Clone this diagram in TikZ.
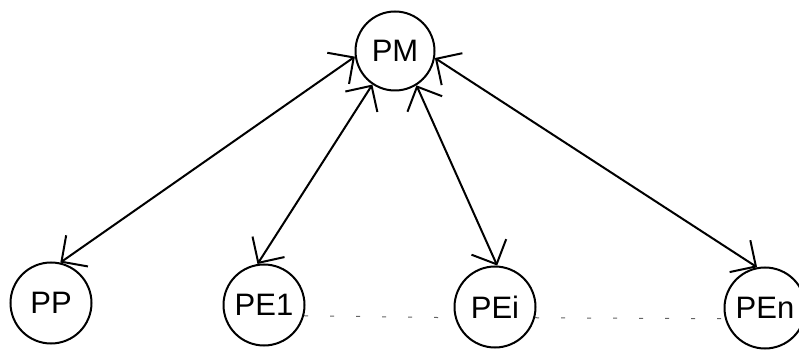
\documentclass[tikz,border=0pt]{standalone}
\usepackage{fontspec}
\setmainfont{Liberation Sans}
\usepackage{tikz}
\usetikzlibrary{arrows.meta}
\definecolor{dashgray}{RGB}{100,100,100}
\tikzstyle{proc} = [circle, draw=black, line width=2pt, minimum size=81pt, inner sep=0pt, font=\fontsize{31}{33}\selectfont]
\tikzstyle{link} = [line width=2pt, {Straight Barb[length=19pt,width=38pt]}-{Straight Barb[length=19pt,width=38pt]}]
\tikzstyle{ring} = [dashgray, line width=1pt, dash pattern=on 4pt off 22pt]

\begin{document}
\begin{tikzpicture}[x=1pt,y=-1pt]
\clip (0,0) rectangle (799,352);
\node[proc, minimum size=79pt] (pm) at (395,51) {PM};
\node[proc] (pp) at (51,303) {PP};
\node[proc] (pe1) at (264,305) {PE1};
\node[proc] (pei) at (495,307) {PEi};
\node[proc] (pen) at (765,308) {PEn};

\draw[link] (pm.188) -- (pp.77);
\draw[link] (pm.236) -- (pe1.99);
\draw[link] (pm.302) -- (pei.87);
\draw[link] (pm.-10) -- (pen.101);

\draw[ring] (pe1.-15) -- (pei.195);
\draw[ring] (pei.-15) -- (pen.195);
\end{tikzpicture}
\end{document}
